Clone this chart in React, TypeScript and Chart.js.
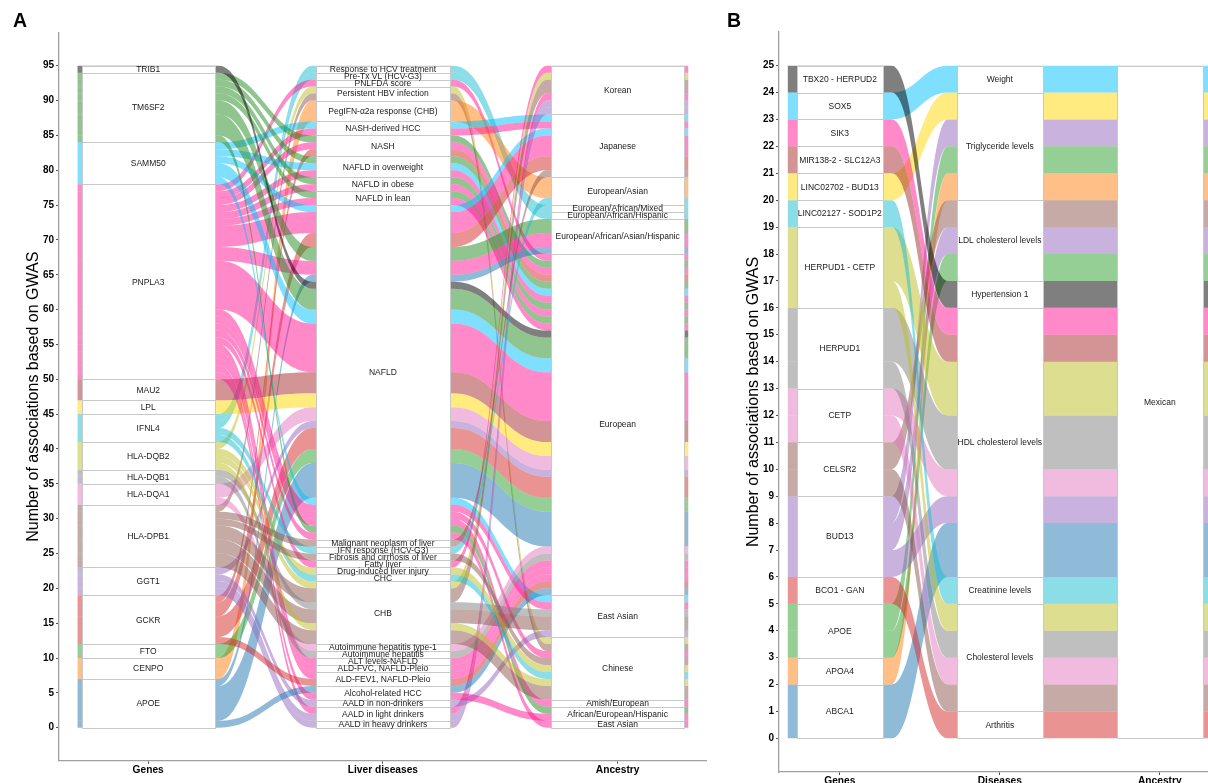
import React, { useEffect, useRef } from "react";
import { Chart, registerables } from "chart.js";

Chart.register(...registerables);

const FONT = "'Liberation Sans', Arial, Helvetica, sans-serif";

// ================= Panel A data =================
const axisNamesA = ["Genes", "Liver diseases", "Ancestry"];
const genesA = ["APOE", "CENPO", "FTO", "GCKR", "GGT1", "HLA-DPB1", "HLA-DQA1", "HLA-DQB1", "HLA-DQB2", "IFNL4", "LPL", "MAU2", "PNPLA3", "SAMM50", "TM6SF2", "TRIB1"];
const geneColorsA = ["#1f77b4", "#ff7f0e", "#2ca02c", "#d62728", "#9467bd", "#8c564b", "#e377c2", "#7f7f7f", "#bcbd22", "#17becf", "#ffd700", "#a52a2a", "#ff1493", "#00bfff", "#228b22", "#000000"];
const diseasesA = [
  "AALD in heavy drinkers", "AALD in light drinkers", "AALD in non-drinkers", "Alcohol-related HCC",
  "ALD-FEV1, NAFLD-Pleio", "ALD-FVC, NAFLD-Pleio", "ALT levels-NAFLD", "Autoimmune hepatitis",
  "Autoimmune hepatitis type-1", "CHB", "CHC", "Drug-induced liver injury", "Fatty liver",
  "Fibrosis and cirrhosis of liver", "IFN response (HCV-G3)", "Malignant neoplasm of liver", "NAFLD",
  "NAFLD in lean", "NAFLD in obese", "NAFLD in overweight", "NASH", "NASH-derived HCC",
  "PegIFN-α2a response (CHB)", "Persistent HBV infection", "PNLFDA score", "Pre-Tx VL (HCV-G3)",
  "Response to HCV treatment",
];
const ancestryKeysA = ["East Asian_2", "African/European/Hispanic", "Amish/European", "Chinese", "East Asian", "European", "European/African/Asian/Hispanic", "European/African/Hispanic", "European/African/Mixed", "European/Asian", "Japanese", "Korean"];
const ancestryLabelsA = ["East Asian", "African/European/Hispanic", "Amish/European", "Chinese", "East Asian", "European", "European/African/Asian/Hispanic", "European/African/Hispanic", "European/African/Mixed", "European/Asian", "Japanese", "Korean"];
const yTicksA = [0, 5, 10, 15, 20, 25, 30, 35, 40, 45, 50, 55, 60, 65, 70, 75, 80, 85, 90, 95];
// [gene, disease, ancestry, number of associations]
const associationsA: [string, string, string, number][] = [
  ["IFNL4", "Response to HCV treatment", "European/African/Mixed", 1],
  ["IFNL4", "Pre-Tx VL (HCV-G3)", "European/African/Hispanic", 1],
  ["PNPLA3", "PNLFDA score", "European", 1],
  ["HLA-DPB1", "Persistent HBV infection", "Chinese", 1],
  ["HLA-DQB2", "Persistent HBV infection", "Chinese", 1],
  ["CENPO", "PegIFN-α2a response (CHB)", "European/Asian", 3],
  ["SAMM50", "NASH-derived HCC", "Japanese", 1],
  ["PNPLA3", "NASH-derived HCC", "Japanese", 1],
  ["TM6SF2", "NASH", "European", 1],
  ["PNPLA3", "NASH", "European", 1],
  ["GCKR", "NASH", "European", 1],
  ["TM6SF2", "NAFLD in overweight", "European", 1],
  ["SAMM50", "NAFLD in overweight", "European", 1],
  ["PNPLA3", "NAFLD in overweight", "European", 1],
  ["TM6SF2", "NAFLD in obese", "European", 1],
  ["PNPLA3", "NAFLD in obese", "European", 1],
  ["TM6SF2", "NAFLD in lean", "European", 1],
  ["PNPLA3", "NAFLD in lean", "European", 1],
  ["GCKR", "NAFLD", "Japanese", 2],
  ["PNPLA3", "NAFLD", "Japanese", 3],
  ["SAMM50", "NAFLD", "Japanese", 1],
  ["APOE", "NAFLD", "European/African/Asian/Hispanic", 1],
  ["PNPLA3", "NAFLD", "European/African/Asian/Hispanic", 2],
  ["TM6SF2", "NAFLD", "European/African/Asian/Hispanic", 2],
  ["APOE", "NAFLD", "European", 5],
  ["FTO", "NAFLD", "European", 2],
  ["GCKR", "NAFLD", "European", 3],
  ["GGT1", "NAFLD", "European", 1],
  ["HLA-DQA1", "NAFLD", "European", 2],
  ["LPL", "NAFLD", "European", 2],
  ["MAU2", "NAFLD", "European", 3],
  ["PNPLA3", "NAFLD", "European", 7],
  ["SAMM50", "NAFLD", "European", 2],
  ["TM6SF2", "NAFLD", "European", 3],
  ["TRIB1", "NAFLD", "European", 1],
  ["SAMM50", "NAFLD", "East Asian", 1],
  ["PNPLA3", "NAFLD", "East Asian", 1],
  ["PNPLA3", "NAFLD", "Chinese", 1],
  ["PNPLA3", "NAFLD", "Amish/European", 1],
  ["TM6SF2", "NAFLD", "African/European/Hispanic", 1],
  ["PNPLA3", "NAFLD", "East Asian_2", 1],
  ["GGT1", "AALD in heavy drinkers", "Korean", 1],
  ["GGT1", "AALD in light drinkers", "Korean", 1],
  ["PNPLA3", "AALD in light drinkers", "Korean", 1],
  ["GGT1", "AALD in non-drinkers", "East Asian", 1],
  ["APOE", "Alcohol-related HCC", "European", 1],
  ["PNPLA3", "Alcohol-related HCC", "African/European/Hispanic", 1],
  ["GCKR", "ALD-FEV1, NAFLD-Pleio", "European", 1],
  ["PNPLA3", "ALD-FEV1, NAFLD-Pleio", "European", 1],
  ["PNPLA3", "ALD-FVC, NAFLD-Pleio", "European", 1],
  ["PNPLA3", "ALT levels-NAFLD", "European", 1],
  ["HLA-DQB1", "Autoimmune hepatitis", "European", 1],
  ["HLA-DQA1", "Autoimmune hepatitis type-1", "European", 1],
  ["HLA-DPB1", "CHB", "Korean", 2],
  ["HLA-DQB2", "CHB", "Korean", 1],
  ["HLA-DPB1", "CHB", "East Asian", 2],
  ["HLA-DQB1", "CHB", "East Asian", 1],
  ["HLA-DPB1", "CHB", "Chinese", 2],
  ["HLA-DQB2", "CHB", "Chinese", 1],
  ["IFNL4", "CHC", "Chinese", 1],
  ["HLA-DQB2", "Drug-induced liver injury", "Chinese", 1],
  ["PNPLA3", "Fatty liver", "Korean", 1],
  ["HLA-DPB1", "Fibrosis and cirrhosis of liver", "Chinese", 1],
  ["IFNL4", "IFN response (HCV-G3)", "European/Asian", 1],
  ["HLA-DPB1", "Malignant neoplasm of liver", "Japanese", 1],
];

// ================= Panel B data =================
const axisNamesB = ["Genes", "Diseases", "Ancestry"];
const genesB = ["ABCA1", "APOA4", "APOE", "BCO1 - GAN", "BUD13", "CELSR2", "CETP", "HERPUD1", "HERPUD1 - CETP", "LINC02127 - SOD1P2", "LINC02702 - BUD13", "MIR138-2 - SLC12A3", "SIK3", "SOX5", "TBX20 - HERPUD2"];
const geneColorsB = ["#1f77b4", "#ff7f0e", "#2ca02c", "#d62728", "#9467bd", "#8c564b", "#e377c2", "#7f7f7f", "#bcbd22", "#17becf", "#ffd700", "#a52a2a", "#ff1493", "#00bfff", "#000000"];
const diseasesB = ["Arthritis", "Cholesterol levels", "Creatinine levels", "HDL cholesterol levels", "Hypertension 1", "LDL cholesterol levels", "Triglyceride levels", "Weight"];
const ancestryKeysB = ["Mexican"];
const ancestryLabelsB = ["Mexican"];
const yTicksB = [0, 1, 2, 3, 4, 5, 6, 7, 8, 9, 10, 11, 12, 13, 14, 15, 16, 17, 18, 19, 20, 21, 22, 23, 24, 25];
const associationsB: [string, string, string, number][] = [
  ["ABCA1", "HDL cholesterol levels", "Mexican", 2],
  ["APOA4", "Triglyceride levels", "Mexican", 1],
  ["APOE", "LDL cholesterol levels", "Mexican", 1],
  ["APOE", "Triglyceride levels", "Mexican", 1],
  ["BCO1 - GAN", "Arthritis", "Mexican", 1],
  ["BUD13", "HDL cholesterol levels", "Mexican", 1],
  ["BUD13", "LDL cholesterol levels", "Mexican", 1],
  ["BUD13", "Triglyceride levels", "Mexican", 1],
  ["CELSR2", "Cholesterol levels", "Mexican", 1],
  ["CELSR2", "LDL cholesterol levels", "Mexican", 1],
  ["CETP", "Cholesterol levels", "Mexican", 1],
  ["CETP", "HDL cholesterol levels", "Mexican", 1],
  ["HERPUD1", "Cholesterol levels", "Mexican", 1],
  ["HERPUD1", "HDL cholesterol levels", "Mexican", 2],
  ["HERPUD1 - CETP", "Cholesterol levels", "Mexican", 1],
  ["HERPUD1 - CETP", "HDL cholesterol levels", "Mexican", 2],
  ["LINC02127 - SOD1P2", "Creatinine levels", "Mexican", 1],
  ["LINC02702 - BUD13", "Triglyceride levels", "Mexican", 1],
  ["MIR138-2 - SLC12A3", "HDL cholesterol levels", "Mexican", 1],
  ["SIK3", "HDL cholesterol levels", "Mexican", 1],
  ["SOX5", "Weight", "Mexican", 1],
  ["TBX20 - HERPUD2", "Hypertension 1", "Mexican", 1],
];

// ================= rendering helpers =================
function rgba(hex: string, a: number) {
  const h = hex.replace("#", "");
  const r = parseInt(h.slice(0, 2), 16);
  const g = parseInt(h.slice(2, 4), 16);
  const b = parseInt(h.slice(4, 6), 16);
  return `rgba(${r},${g},${b},${a})`;
}

type Spec = {
  axes: string[][];
  labels: string[][];
  rows: [string, string, string, number][];
  colors: string[];
  boxHalf: number;
  knotHalf: number;
  letter: string;
  letterX: number;
};

function alluvialPlugin(spec: Spec) {
  return {
    id: "alluvial",
    beforeDatasetsDraw(chart: any) {
      const { ctx } = chart;
      const xs = chart.scales.x;
      const ys = chart.scales.y;
      const px = (v: number) => xs.getPixelForValue(v);
      const py = (v: number) => ys.getPixelForValue(v);
      const rows = spec.rows.map((r) => ({
        idx: [spec.axes[0].indexOf(r[0]), spec.axes[1].indexOf(r[1]), spec.axes[2].indexOf(r[2])],
        n: r[3],
      }));
      const prio = [[0, 1, 2], [1, 2, 0], [2, 1, 0]];
      const lo = rows.map(() => [0, 0, 0]);
      for (let k = 0; k < 3; k++) {
        const order = rows.map((_, i) => i).sort((a, b) => {
          for (const p of prio[k]) {
            const d = rows[a].idx[p] - rows[b].idx[p];
            if (d) return d;
          }
          return a - b;
        });
        let acc = 0;
        for (const i of order) {
          lo[i][k] = acc;
          acc += rows[i].n;
        }
      }
      const kh = spec.knotHalf;
      const bh = spec.boxHalf;
      const C = 0.45;
      ctx.save();
      rows.forEach((r, i) => {
        const top = [0, 1, 2].map((k) => py(lo[i][k] + r.n));
        const bot = [0, 1, 2].map((k) => py(lo[i][k]));
        ctx.beginPath();
        ctx.moveTo(px(1 - kh), top[0]);
        for (let k = 0; k < 3; k++) {
          const xl = px(k + 1 - kh);
          const xr = px(k + 1 + kh);
          if (k > 0) {
            const xp = px(k + kh);
            const gap = xl - xp;
            ctx.bezierCurveTo(xp + C * gap, top[k - 1], xl - C * gap, top[k], xl, top[k]);
          }
          ctx.lineTo(xr, top[k]);
        }
        ctx.lineTo(px(3 + kh), bot[2]);
        for (let k = 2; k >= 0; k--) {
          const xl = px(k + 1 - kh);
          const xr = px(k + 1 + kh);
          if (k < 2) {
            const xn = px(k + 2 - kh);
            const gap = xn - xr;
            ctx.bezierCurveTo(xn - C * gap, bot[k + 1], xr + C * gap, bot[k], xr, bot[k]);
          }
          ctx.lineTo(xl, bot[k]);
        }
        ctx.closePath();
        ctx.fillStyle = rgba(spec.colors[r.idx[0]], 0.5);
        ctx.fill();
      });
      // strata boxes
      ctx.font = `8.5px ${FONT}`;
      ctx.textAlign = "center";
      ctx.textBaseline = "middle";
      for (let k = 0; k < 3; k++) {
        const counts = spec.axes[k].map(() => 0);
        rows.forEach((r) => (counts[r.idx[k]] += r.n));
        let acc = 0;
        const x0 = Math.round(px(k + 1 - bh)) + 0.5;
        const x1 = Math.round(px(k + 1 + bh)) + 0.5;
        const boxes: [number, number, number][] = [];
        counts.forEach((c, s) => {
          if (c > 0) boxes.push([acc, acc + c, s]);
          acc += c;
        });
        ctx.fillStyle = "#ffffff";
        ctx.strokeStyle = "#c8c8c8";
        ctx.lineWidth = 1;
        boxes.forEach(([b, t]) => {
          const y0 = Math.round(py(t)) + 0.5;
          const y1 = Math.round(py(b)) + 0.5;
          ctx.fillRect(x0, y0, x1 - x0, y1 - y0);
          ctx.strokeRect(x0, y0, x1 - x0, y1 - y0);
        });
        ctx.fillStyle = "#1a1a1a";
        boxes.forEach(([b, t, s]) => {
          ctx.fillText(spec.labels[k][s], px(k + 1), py((b + t) / 2) + 0.5);
        });
      }
      ctx.restore();
    },
    afterDraw(chart: any) {
      const { ctx } = chart;
      ctx.save();
      ctx.font = `bold 19.5px ${FONT}`;
      ctx.fillStyle = "#000";
      ctx.textAlign = "center";
      ctx.textBaseline = "middle";
      ctx.fillText(spec.letter, spec.letterX, 22);
      ctx.restore();
    },
  };
}

type Layout = {
  width: number;
  height: number;
  padTop: number;
  padRight: number;
  xAxisHeight: number;
  yMin: number;
  yMax: number;
};

function makeChart(canvas: HTMLCanvasElement, spec: Spec, axisNames: string[], yTicks: number[], lay: Layout) {
  return new Chart(canvas, {
    type: "scatter",
    data: { datasets: [{ data: [], pointRadius: 0 }] },
    options: {
      responsive: false,
      animation: false,
      devicePixelRatio: 1,
      events: [],
      layout: { padding: { top: lay.padTop, right: lay.padRight, bottom: 0, left: 0 } },
      plugins: { legend: { display: false }, tooltip: { enabled: false } },
      scales: {
        x: {
          type: "linear",
          min: 0.62,
          max: 3.38,
          afterBuildTicks: (s: any) => {
            s.ticks = [1, 2, 3].map((v) => ({ value: v }));
          },
          afterFit: (s: any) => {
            s.height = lay.xAxisHeight;
          },
          ticks: {
            autoSkip: false,
            maxRotation: 0,
            padding: 0,
            color: "#000",
            font: { family: FONT, size: 10.2, weight: "bold" },
            callback: (v: any) => axisNames[Math.round(Number(v)) - 1] ?? "",
          },
          grid: { drawOnChartArea: false, drawTicks: true, tickLength: 3, tickColor: "#555" },
          border: { display: true, color: "#a0a0a0", width: 1.3 },
        },
        y: {
          type: "linear",
          min: lay.yMin,
          max: lay.yMax,
          afterBuildTicks: (s: any) => {
            s.ticks = yTicks.map((v) => ({ value: v }));
          },
          afterFit: (s: any) => {
            s.width = 59;
          },
          ticks: {
            padding: 2,
            color: "#000",
            font: { family: FONT, size: 10, weight: "bold" },
          },
          title: {
            display: true,
            text: "Number of associations based on GWAS",
            color: "#000",
            font: { family: FONT, size: 16 },
            padding: { top: 24, bottom: 0 },
          },
          grid: { drawOnChartArea: false, drawTicks: true, tickLength: 3, tickColor: "#555" },
          border: { display: true, color: "#a0a0a0", width: 1.3 },
        },
      },
    } as any,
    plugins: [alluvialPlugin(spec) as any],
  });
}

export default function App() {
  const refA = useRef<HTMLCanvasElement | null>(null);
  const refB = useRef<HTMLCanvasElement | null>(null);

  useEffect(() => {
    const specA: Spec = {
      axes: [genesA, diseasesA, ancestryKeysA],
      labels: [genesA, diseasesA, ancestryLabelsA],
      rows: associationsA,
      colors: geneColorsA,
      boxHalf: 0.284,
      knotHalf: 0.301,
      letter: "A",
      letterX: 20,
    };
    const specB: Spec = {
      axes: [genesB, diseasesB, ancestryKeysB],
      labels: [genesB, diseasesB, ancestryLabelsB],
      rows: associationsB,
      colors: geneColorsB,
      boxHalf: 0.269,
      knotHalf: 0.325,
      letter: "B",
      letterX: 14,
    };
    const a = makeChart(refA.current!, specA, axisNamesA, yTicksA, {
      width: 720, height: 783, padTop: 32.6, padRight: 13.2, xAxisHeight: 22.2, yMin: -4.75, yMax: 99.75,
    });
    const b = makeChart(refB.current!, specB, axisNamesB, yTicksB, {
      width: 520, height: 800, padTop: 32, padRight: 19.4, xAxisHeight: 28, yMin: -1.25, yMax: 26.25,
    });
    return () => {
      a.destroy();
      b.destroy();
    };
  }, []);

  return (
    <div style={{ position: "absolute", left: 0, top: 0, width: 1208, height: 783, overflow: "hidden", background: "#ffffff" }}>
      <canvas ref={refA} width={720} height={783} style={{ position: "absolute", left: 0, top: 0, width: 720, height: 783 }} />
      <canvas ref={refB} width={520} height={800} style={{ position: "absolute", left: 720, top: 0, width: 520, height: 800 }} />
    </div>
  );
}
